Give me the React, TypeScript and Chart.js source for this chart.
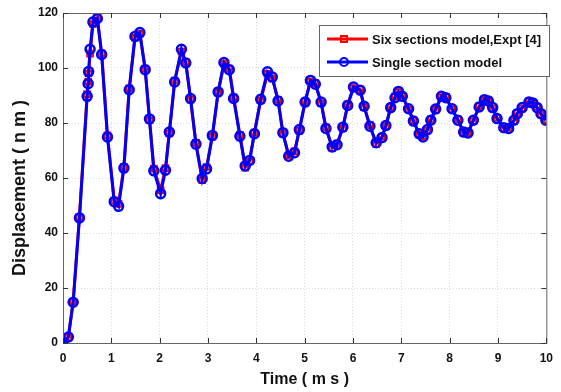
import React, { useEffect, useRef } from "react";
import { Chart, registerables } from "chart.js";

Chart.register(...registerables);

const timeMs = [0, 0.11, 0.21, 0.34, 0.50, 0.52, 0.53, 0.56, 0.62, 0.71, 0.80, 0.92, 1.06, 1.15, 1.26, 1.37, 1.49, 1.59, 1.70, 1.79, 1.88, 2.02, 2.12, 2.20, 2.31, 2.45, 2.54, 2.64, 2.75, 2.88, 2.97, 3.09, 3.21, 3.33, 3.44, 3.53, 3.66, 3.77, 3.86, 3.96, 4.09, 4.23, 4.33, 4.45, 4.55, 4.67, 4.79, 4.89, 5.01, 5.12, 5.22, 5.34, 5.44, 5.57, 5.67, 5.79, 5.89, 6.01, 6.15, 6.23, 6.35, 6.48, 6.60, 6.68, 6.78, 6.87, 6.94, 7.02, 7.15, 7.25, 7.37, 7.45, 7.54, 7.61, 7.71, 7.83, 7.92, 8.05, 8.17, 8.29, 8.38, 8.49, 8.61, 8.72, 8.80, 8.89, 8.98, 9.12, 9.22, 9.33, 9.40, 9.50, 9.64, 9.72, 9.81, 9.89, 9.99];

const sixSections = [0, 2.0, 15.0, 45.8, 90.5, 95.0, 98.0, 105.2, 116.0, 118.3, 105.3, 75.5, 51.8, 50.6, 64.0, 92.6, 111.0, 112.4, 99.8, 81.0, 63.4, 55.6, 63.6, 76.2, 95.4, 106.0, 102.2, 88.5, 72.8, 59.2, 64.0, 75.0, 91.0, 101.6, 99.8, 89.3, 75.7, 63.8, 66.0, 76.5, 88.2, 97.9, 96.2, 88.4, 76.1, 68.3, 69.7, 77.2, 87.9, 95.1, 94.5, 87.2, 78.4, 70.9, 72.5, 78.1, 86.8, 92.7, 92.2, 85.8, 79.2, 72.4, 75.0, 78.8, 85.9, 89.6, 91.2, 90.0, 84.9, 81.0, 75.8, 75.2, 77.3, 81.3, 84.8, 89.4, 89.5, 84.9, 81.3, 76.4, 76.7, 80.7, 86.1, 88.2, 88.3, 85.3, 81.9, 78.0, 78.3, 80.7, 83.7, 85.3, 87.9, 87.0, 85.9, 83.1, 81.3];

const singleSection = [0, 2.2, 14.8, 45.5, 89.7, 94.3, 98.7, 106.8, 116.7, 118, 104.9, 74.9, 51.4, 49.7, 63.6, 92.1, 111.5, 112.9, 99.4, 81.5, 62.6, 54.3, 62.8, 76.7, 94.9, 106.8, 101.8, 88.9, 72.3, 59.8, 63.3, 75.5, 91.3, 102, 99.4, 88.9, 75.2, 64.4, 66.4, 76.1, 88.6, 98.6, 96.7, 88, 76.5, 67.9, 69.2, 77.6, 87.6, 95.5, 94.1, 87.6, 78, 71.3, 72.1, 78.5, 86.4, 93.1, 91.9, 86.1, 78.8, 72.8, 74.7, 79.1, 85.6, 89.2, 91.5, 89.7, 85.2, 80.7, 76.1, 74.9, 77.6, 81, 85.1, 89.7, 89.2, 85.2, 81, 76.7, 76.4, 81, 85.8, 88.5, 88, 85.6, 81.6, 78.3, 78, 81, 83.4, 85.6, 87.6, 87.3, 85.6, 83.4, 81];

const seriesNames = ["Six sections model,Expt [4]", "Single section model"];
const xTitle = "Time ( m s )";
const yTitle = "Displacement ( n m )";
const xTicks = [0, 1, 2, 3, 4, 5, 6, 7, 8, 9, 10];
const yTicks = [0, 20, 40, 60, 80, 100, 120];

const REG = "'Liberation Sans', Arial, sans-serif";

const decorPlugin = {
  id: "decor",
  afterDraw(chart: any) {
    const { ctx, chartArea, scales } = chart;
    const { left, right, top, bottom } = chartArea;
    ctx.save();
    // frame
    ctx.strokeStyle = "#666";
    ctx.lineWidth = 1;
    ctx.strokeRect(left + 0.5, top + 0.5, right - left, bottom - top);
    // inner ticks
    ctx.strokeStyle = "#333";
    ctx.beginPath();
    xTicks.forEach((t) => {
      const x = Math.round(scales.x.getPixelForValue(t)) + 0.5;
      ctx.moveTo(x, bottom);
      ctx.lineTo(x, bottom - 5);
      ctx.moveTo(x, top);
      ctx.lineTo(x, top + 5);
    });
    yTicks.forEach((t) => {
      const y = Math.round(scales.y.getPixelForValue(t)) + 0.5;
      ctx.moveTo(left, y);
      ctx.lineTo(left + 5, y);
      ctx.moveTo(right, y);
      ctx.lineTo(right - 5, y);
    });
    ctx.stroke();

    // y title
    ctx.save();
    ctx.translate(20, 188);
    ctx.rotate(-Math.PI / 2);
    ctx.font = `bold 18px ${REG}`;
    ctx.fillStyle = "#111";
    ctx.textAlign = "center";
    ctx.textBaseline = "middle";
    ctx.fillText(yTitle, 0, 0);
    ctx.restore();

    // legend
    const bx = 319, by = 25, bw = 230, bh = 51;
    ctx.fillStyle = "#fff";
    ctx.fillRect(bx, by, bw, bh);
    ctx.strokeStyle = "#666";
    ctx.lineWidth = 1;
    ctx.strokeRect(bx + 0.5, by + 0.5, bw, bh);
    const rows = [
      { y: 39, color: "#ff0000", style: "rect" },
      { y: 62, color: "#0000ff", style: "circle" },
    ];
    rows.forEach((r, i) => {
      ctx.strokeStyle = r.color;
      ctx.lineWidth = 3;
      ctx.beginPath();
      ctx.moveTo(327, r.y);
      ctx.lineTo(368, r.y);
      ctx.stroke();
      ctx.lineWidth = 2;
      ctx.beginPath();
      if (r.style === "rect") {
        ctx.rect(344 - 3, r.y - 3, 6, 6);
      } else {
        ctx.arc(344, r.y, 4, 0, Math.PI * 2);
      }
      ctx.stroke();
      ctx.fillStyle = "#111";
      ctx.font = `bold 13px ${REG}`;
      ctx.textAlign = "left";
      ctx.textBaseline = "middle";
      ctx.fillText(seriesNames[i], 372, r.y + 1);
    });
    ctx.restore();
  },
};

export default function App() {
  const ref = useRef<HTMLCanvasElement | null>(null);
  useEffect(() => {
    if (!ref.current) return;
    const chart = new Chart(ref.current, {
      type: "line",
      data: {
        datasets: [
          {
            label: seriesNames[1],
            data: timeMs.map((t, i) => ({ x: t, y: singleSection[i] })),
            borderColor: "#0000ff",
            backgroundColor: "rgba(0,0,0,0)",
            borderWidth: 3,
            pointStyle: "circle",
            pointRadius: 4.5,
            pointBorderWidth: 2.5,
            pointBorderColor: "#0000ff",
            pointBackgroundColor: "rgba(0,0,0,0)",
            tension: 0,
            order: 0,
          },
          {
            label: seriesNames[0],
            data: timeMs.map((t, i) => ({ x: t, y: sixSections[i] })),
            borderColor: "#ff0000",
            backgroundColor: "rgba(0,0,0,0)",
            borderWidth: 3,
            pointStyle: "rect",
            pointRadius: 4,
            pointBorderWidth: 2,
            pointBorderColor: "#ff0000",
            pointBackgroundColor: "rgba(0,0,0,0)",
            tension: 0,
            order: 1,
          },
        ],
      },
      options: {
        animation: false,
        responsive: true,
        maintainAspectRatio: false,
        layout: { padding: { top: 13, right: 13, left: 0, bottom: 0 } },
        plugins: { legend: { display: false }, tooltip: { enabled: false } },
        scales: {
          x: {
            type: "linear",
            min: 0,
            max: 10,
            afterFit: (s: any) => { s.height = 49; },
            afterBuildTicks: (s: any) => { s.ticks = xTicks.map((v) => ({ value: v })); },
            grid: { color: "#dcdcdc", lineWidth: 1, drawTicks: false },
            border: { display: true, width: 0, dash: [1, 2] },
            ticks: { color: "#111", padding: 8, font: { family: REG, size: 12, weight: "bold" } },
            title: { display: true, text: xTitle, color: "#111", padding: { top: 0, bottom: 3 }, font: { family: REG, size: 16, weight: "bold" } },
          },
          y: {
            type: "linear",
            min: 0,
            max: 120,
            afterFit: (s: any) => { s.width = 63; },
            afterBuildTicks: (s: any) => { s.ticks = yTicks.map((v) => ({ value: v })); },
            grid: { color: "#dcdcdc", lineWidth: 1, drawTicks: false },
            border: { display: true, width: 0, dash: [1, 2] },
            ticks: { color: "#111", padding: 5, font: { family: REG, size: 12, weight: "bold" } },
          },
        },
      },
      plugins: [decorPlugin],
    } as any);
    return () => chart.destroy();
  }, []);
  return (
    <div style={{ position: "fixed", left: 0, top: 0, width: 561, height: 392, background: "#fff" }}>
      <canvas ref={ref} />
    </div>
  );
}
